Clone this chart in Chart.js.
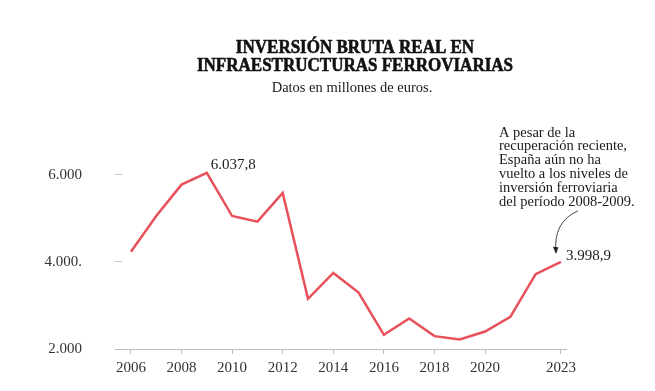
<!DOCTYPE html>
<html>
<head>
<meta charset="utf-8">
<script src="https://cdn.jsdelivr.net/npm/chart.js@4"></script>
<style>
  html, body { margin: 0; padding: 0; background: #fff; }
  #wrap { width: 655px; height: 391px; position: relative; }
</style>
</head>
<body>
<div id="wrap"><canvas id="chart"></canvas></div>
<script>
// Data
const years = [2006, 2007, 2008, 2009, 2010, 2011, 2012, 2013, 2014, 2015, 2016, 2017, 2018, 2019, 2020, 2021, 2022, 2023];
const inversion = [4230, 5050, 5770, 6037.8, 5050, 4920, 5580, 3150, 3745, 3295, 2325, 2700, 2295, 2220, 2400, 2735, 3715, 3998.9];
const xTickYears = [2006, 2008, 2010, 2012, 2014, 2016, 2018, 2020, 2023];
const yTickValues = [2000, 4000, 6000];
const yTickLabels = ['2.000', '4.000.', '6.000'];
const titleLines = ['INVERSIÓN BRUTA REAL EN', 'INFRAESTRUCTURAS FERROVIARIAS'];
const subtitle = 'Datos en millones de euros.';
const noteLines = ['A pesar de la', 'recuperación reciente,', 'España aún no ha', 'vuelto a los niveles de', 'inversión ferroviaria', 'del período 2008-2009.'];
const peakLabel = '6.037,8';
const lastLabel = '3.998,9';

const SERIF = "'Liberation Serif', 'Times New Roman', serif";
const RED = '#e8505b';

// Texts drawn on top of the chart
const textPlugin = {
  id: 'texts',
  afterDraw(chart) {
    const ctx = chart.ctx;
    const xs = chart.scales.x, ys = chart.scales.y;
    ctx.save();
    ctx.fillStyle = '#111';

    // title (heavy, condensed)
    ctx.font = 'bold 19px ' + SERIF;
    ctx.textAlign = 'center';
    ctx.textBaseline = 'alphabetic';
    ctx.strokeStyle = '#111';
    ctx.lineWidth = 0.6;
    titleLines.forEach((t, i) => {
      const w = ctx.measureText(t).width * 0.895;
      ctx.fillText(t, 355, 53 + i * 17.7, w);
      ctx.strokeText(t, 355, 53 + i * 17.7, w);
    });

    // subtitle
    ctx.fillStyle = '#1a1a1a';
    ctx.font = '14.5px ' + SERIF;
    ctx.fillText(subtitle, 352, 92);

    // value labels
    ctx.textAlign = 'left';
    ctx.font = '15px ' + SERIF;
    const px = xs.getPixelForValue(2009), py = ys.getPixelForValue(inversion[3]);
    ctx.fillText(peakLabel, px + 4, py - 4);
    const lx = xs.getPixelForValue(2023), ly = ys.getPixelForValue(inversion[inversion.length - 1]);
    ctx.textBaseline = 'middle';
    ctx.fillText(lastLabel, lx + 5, ly - 6);

    // note
    ctx.textBaseline = 'alphabetic';
    ctx.font = '14.5px ' + SERIF;
    noteLines.forEach((t, i) => ctx.fillText(t, 499, 136.5 + i * 13.9));

    // curved arrow
    ctx.strokeStyle = '#333';
    ctx.lineWidth = 0.9;
    const ex = lx - 5, ey = ly - 9;
    ctx.beginPath();
    ctx.moveTo(lx + 17, ly - 51);
    ctx.quadraticCurveTo(lx - 8, ly - 40, ex, ey);
    ctx.stroke();
    ctx.fillStyle = '#222';
    ctx.beginPath();
    ctx.moveTo(ex - 3, ey - 6);
    ctx.lineTo(ex + 2.5, ey - 5.5);
    ctx.lineTo(ex, ey + 1);
    ctx.closePath();
    ctx.fill();
    ctx.restore();
  }
};

const ctx = document.getElementById('chart').getContext('2d');
const chart = new Chart(ctx, {
  type: 'line',
  data: {
    datasets: [{
      data: years.map((y, i) => ({ x: y, y: inversion[i] })),
      borderColor: RED,
      borderWidth: 2.5,
      pointRadius: 0,
      tension: 0,
      borderJoinStyle: 'miter'
    }]
  },
  options: {
    responsive: true,
    maintainAspectRatio: false,
    animation: false,
    layout: { padding: { top: 131, right: 89, left: 0, bottom: 0 } },
    plugins: { legend: { display: false }, tooltip: { enabled: false } },
    scales: {
      x: {
        type: 'linear',
        min: 2005.37,
        max: 2023.2,
        afterBuildTicks: s => { s.ticks = xTickYears.map(v => ({ value: v })); },
        afterFit: s => { s.height = 40; },
        ticks: {
          callback: v => String(v),
          font: { family: SERIF, size: 15 },
          color: '#333',
          padding: 5,
          maxRotation: 0,
          autoSkip: false
        },
        grid: { drawOnChartArea: false, tickLength: 5, color: '#bdbdbd' },
        border: { color: '#bdbdbd', width: 1 }
      },
      y: {
        min: 2000,
        max: 7000,
        afterBuildTicks: s => { s.ticks = yTickValues.map(v => ({ value: v })); },
        afterFit: s => { s.width = 115; },
        ticks: {
          callback: (v, i) => yTickLabels[i],
          font: { family: SERIF, size: 15 },
          color: '#333',
          padding: 33
        },
        grid: { drawTicks: false, color: '#c4c4c4' },
        border: { display: false, dash: [7, 2000] }
      }
    }
  },
  plugins: [textPlugin]
});
</script>
</body>
</html>
